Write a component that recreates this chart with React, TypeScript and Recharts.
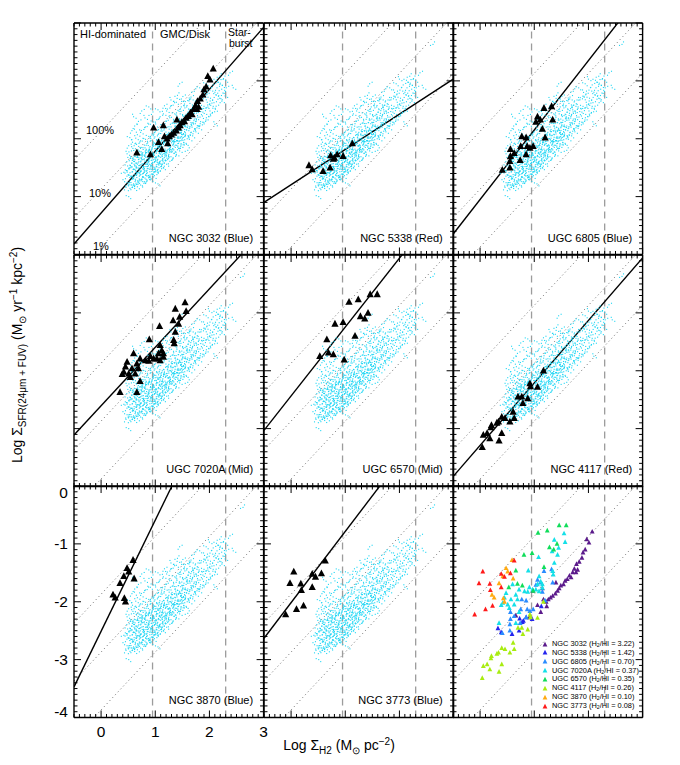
import React from "react";
import { ScatterChart, Scatter, XAxis, YAxis, ReferenceLine } from "recharts";

type Pt = [number, number];

const FONT = "'Liberation Sans', Arial, Helvetica, sans-serif";

// panel grid (pixels)
const COL_LEFT = [74.0, 263.6, 453.1];
const ROW_TOP = [23.3, 254.5, 485.7];
const PW = 189.6;
const PH = 231.5;
const M = 34;

const X_DOMAIN: Pt = [-0.5, 3];
const Y_DOMAIN: Pt = [-4, 0];

const X_TICKS = [
  -0.5, -0.4, -0.3, -0.2, -0.1, 0, 0.1, 0.2, 0.3, 0.4, 0.5, 0.6, 0.7, 0.8, 0.9, 1, 1.1, 1.2, 1.3, 1.4,
  1.5, 1.6, 1.7, 1.8, 1.9, 2, 2.1, 2.2, 2.3, 2.4, 2.5, 2.6, 2.7, 2.8, 2.9, 3,
];
const Y_TICKS = [
  -4, -3.9, -3.8, -3.7, -3.6, -3.5, -3.4, -3.3, -3.2, -3.1, -3, -2.9, -2.8, -2.7, -2.6, -2.5, -2.4,
  -2.3, -2.2, -2.1, -2, -1.9, -1.8, -1.7, -1.6, -1.5, -1.4, -1.3, -1.2, -1.1, -1, -0.9, -0.8, -0.7,
  -0.6, -0.5, -0.4, -0.3, -0.2, -0.1, 0,
];

// vertical regime limits and constant-efficiency lines (log SFR = log gas + offset)
const REGIME_LIMITS = [0.95, 2.3];
const EFFICIENCY_OFFSETS = [-1.87, -2.87, -3.87];

// THINGS spiral pixels (cyan cloud)
const THINGS_CLOUD: Pt[] = [
  [0.46,-2.84],[0.48,-2.76],[0.45,-2.69],[0.50,-2.62],[0.47,-2.55],[0.49,-2.47],[0.52,-2.38],[0.48,-2.26],[0.51,-2.12],[0.53,-1.98],
  [0.55,-2.88],[0.57,-2.80],[0.54,-2.72],[0.56,-2.65],[0.58,-2.57],[0.55,-2.50],[0.57,-2.42],[0.59,-2.33],[0.56,-2.21],[0.58,-2.06],[0.57,-1.86],
  [0.62,-2.86],[0.60,-2.78],[0.63,-2.70],[0.61,-2.62],[0.64,-2.55],[0.62,-2.47],[0.60,-2.39],[0.63,-2.31],[0.65,-2.22],[0.61,-2.12],[0.64,-1.99],[0.62,-1.78],
  [0.67,-2.83],[0.69,-2.75],[0.66,-2.67],[0.68,-2.59],[0.70,-2.52],[0.67,-2.44],[0.69,-2.36],[0.71,-2.28],[0.68,-2.19],[0.70,-2.08],[0.67,-1.93],[0.69,-1.70],
  [0.73,-2.80],[0.75,-2.71],[0.72,-2.63],[0.74,-2.56],[0.76,-2.48],[0.73,-2.40],[0.75,-2.32],[0.77,-2.24],[0.74,-2.15],[0.76,-2.04],[0.73,-1.89],
  [0.79,-2.77],[0.81,-2.68],[0.78,-2.60],[0.80,-2.52],[0.82,-2.44],[0.79,-2.36],[0.81,-2.28],[0.83,-2.20],[0.80,-2.11],[0.82,-2.01],[0.79,-1.84],[0.81,-1.64],
  [0.85,-2.73],[0.87,-2.64],[0.84,-2.56],[0.86,-2.48],[0.88,-2.40],[0.85,-2.32],[0.87,-2.24],[0.89,-2.16],[0.86,-2.07],[0.88,-1.96],[0.85,-1.79],
  [0.91,-2.71],[0.93,-2.61],[0.90,-2.53],[0.92,-2.45],[0.94,-2.37],[0.91,-2.29],[0.93,-2.21],[0.95,-2.12],[0.92,-2.03],[0.94,-1.92],[0.91,-1.75],[0.93,-1.58],
  [0.97,-2.66],[0.99,-2.57],[0.96,-2.49],[0.98,-2.41],[1.00,-2.33],[0.97,-2.25],[0.99,-2.17],[1.01,-2.08],[0.98,-1.99],[1.00,-1.88],[0.97,-1.71],
  [1.03,-2.62],[1.05,-2.53],[1.02,-2.45],[1.04,-2.37],[1.06,-2.29],[1.03,-2.21],[1.05,-2.13],[1.07,-2.04],[1.04,-1.95],[1.06,-1.84],[1.03,-1.67],[1.05,-1.50],
  [1.09,-2.56],[1.11,-2.48],[1.08,-2.40],[1.10,-2.32],[1.12,-2.24],[1.09,-2.16],[1.11,-2.08],[1.13,-2.00],[1.10,-1.91],[1.12,-1.80],[1.09,-1.62],
  [1.15,-2.50],[1.17,-2.42],[1.14,-2.34],[1.16,-2.26],[1.18,-2.18],[1.15,-2.10],[1.17,-2.02],[1.19,-1.94],[1.16,-1.85],[1.18,-1.74],[1.15,-1.57],[1.17,-1.43],
  [1.21,-2.44],[1.23,-2.36],[1.20,-2.28],[1.22,-2.20],[1.24,-2.12],[1.21,-2.05],[1.23,-1.97],[1.25,-1.89],[1.22,-1.80],[1.24,-1.68],[1.21,-1.52],
  [1.27,-2.39],[1.29,-2.31],[1.26,-2.23],[1.28,-2.15],[1.30,-2.07],[1.27,-2.00],[1.29,-1.92],[1.31,-1.84],[1.28,-1.75],[1.30,-1.63],[1.27,-1.47],[1.29,-1.33],
  [1.33,-2.33],[1.35,-2.25],[1.32,-2.17],[1.34,-2.09],[1.36,-2.01],[1.33,-1.94],[1.35,-1.86],[1.37,-1.78],[1.34,-1.69],[1.36,-1.57],[1.33,-1.42],
  [1.39,-2.27],[1.41,-2.19],[1.38,-2.11],[1.40,-2.03],[1.42,-1.96],[1.39,-1.88],[1.41,-1.80],[1.43,-1.72],[1.40,-1.63],[1.42,-1.51],[1.39,-1.37],[1.41,-1.25],
  [1.45,-2.21],[1.47,-2.13],[1.44,-2.05],[1.46,-1.97],[1.48,-1.90],[1.45,-1.82],[1.47,-1.74],[1.49,-1.66],[1.46,-1.57],[1.48,-1.45],[1.45,-1.32],
  [1.51,-2.15],[1.53,-2.07],[1.50,-1.99],[1.52,-1.91],[1.54,-1.84],[1.51,-1.76],[1.53,-1.68],[1.55,-1.60],[1.52,-1.51],[1.54,-1.40],[1.51,-1.27],
  [1.57,-2.08],[1.59,-2.00],[1.56,-1.92],[1.58,-1.85],[1.60,-1.78],[1.57,-1.70],[1.59,-1.62],[1.61,-1.54],[1.58,-1.45],[1.60,-1.34],
  [1.63,-2.01],[1.65,-1.94],[1.62,-1.86],[1.64,-1.79],[1.66,-1.72],[1.63,-1.64],[1.65,-1.56],[1.67,-1.48],[1.64,-1.39],[1.66,-1.28],
  [1.69,-1.95],[1.71,-1.87],[1.68,-1.80],[1.70,-1.73],[1.72,-1.66],[1.69,-1.58],[1.71,-1.50],[1.73,-1.42],[1.70,-1.33],[1.72,-1.18],
  [1.75,-1.88],[1.77,-1.81],[1.74,-1.74],[1.76,-1.67],[1.78,-1.60],[1.75,-1.52],[1.77,-1.44],[1.79,-1.33],
  [1.81,-1.82],[1.83,-1.74],[1.80,-1.67],[1.84,-1.53],[1.81,-1.45],[1.85,-1.29],[1.82,-1.12],
  [1.87,-1.76],[1.89,-1.65],[1.88,-1.54],[1.90,-1.44],[1.89,-1.31],[1.91,-1.20],
  [1.93,-1.70],[1.95,-1.58],[1.94,-1.46],[1.96,-1.37],[1.95,-1.24],[1.94,-1.05],
  [1.99,-1.62],[2.01,-1.52],[2.00,-1.41],[2.02,-1.30],[2.01,-1.16],[2.00,-0.97],
  [2.05,-1.56],[2.07,-1.44],[2.06,-1.33],[2.08,-1.22],[2.07,-1.07],
  [2.11,-1.49],[2.13,-1.36],[2.12,-1.24],[2.14,-1.12],[2.13,-0.99],
  [2.17,-1.42],[2.19,-1.30],[2.18,-1.17],[2.20,-1.04],[2.19,-0.92],
  [2.23,-1.35],[2.25,-1.21],[2.24,-1.08],[2.26,-0.96],
  [2.29,-1.26],[2.31,-1.12],[2.30,-0.99],
  [2.62,-0.37],[2.44,-1.12],[2.38,-0.86],[0.51,-3.00],[0.42,-2.58],[0.60,-1.62],[0.75,-1.52],
  [1.05,-2.78],[1.60,-2.20],[2.10,-1.75],[1.45,-1.05],[0.88,-1.45],
  // denser core
  [0.50,-2.80],[0.53,-2.67],[0.51,-2.51],[0.54,-2.34],[0.58,-2.84],[0.59,-2.69],[0.60,-2.53],[0.61,-2.44],
  [0.65,-2.79],[0.66,-2.62],[0.65,-2.49],[0.66,-2.32],[0.71,-2.77],[0.72,-2.58],[0.71,-2.46],[0.72,-2.33],
  [0.70,-2.21],[0.77,-2.74],[0.78,-2.66],[0.77,-2.52],[0.78,-2.43],[0.76,-2.27],[0.83,-2.70],[0.84,-2.60],
  [0.83,-2.48],[0.84,-2.36],[0.82,-2.24],[0.89,-2.66],[0.90,-2.57],[0.89,-2.44],[0.90,-2.33],[0.88,-2.20],
  [0.95,-2.61],[0.96,-2.53],[0.95,-2.42],[0.96,-2.29],[0.94,-2.17],[1.01,-2.57],[1.02,-2.48],[1.01,-2.38],
  [1.02,-2.25],[1.00,-2.12],[1.07,-2.50],[1.08,-2.42],[1.07,-2.31],[1.08,-2.19],[1.06,-2.07],[1.13,-2.44],
  [1.14,-2.37],[1.13,-2.27],[1.14,-2.14],[1.12,-2.03],[1.19,-2.38],[1.20,-2.31],[1.19,-2.21],[1.20,-2.09],
  [1.25,-2.27],[1.26,-2.17],[1.25,-2.04],[1.31,-2.22],[1.32,-2.11],[1.31,-1.99],[1.37,-2.15],[1.38,-2.05],
  [1.37,-1.93],[1.43,-2.08],[1.44,-1.99],[1.43,-1.87],[1.49,-2.02],[1.50,-1.93],[1.49,-1.81],
];

// early-type galaxy sub-regions
const NGC3032: Pt[] = [
  [2.07,-0.79],[1.97,-0.92],[2.01,-0.98],[1.94,-1.10],[1.90,-1.15],[1.88,-1.24],[1.83,-1.31],[1.78,-1.35],
  [1.74,-1.43],[1.71,-1.49],[1.80,-1.45],[1.65,-1.55],[1.61,-1.61],[1.57,-1.64],[1.54,-1.70],[1.49,-1.72],
  [1.46,-1.77],[1.43,-1.81],[1.39,-1.86],[1.34,-1.90],[1.30,-1.93],[1.26,-1.96],[1.22,-2.00],[1.15,-1.77],
  [0.97,-1.81],[1.06,-2.06],[1.12,-2.18],[1.23,-2.08],[0.91,-2.27],[0.66,-2.24],[1.17,-1.96],[1.40,-1.67],
  [1.68,-1.58],[1.77,-1.49],
];
const NGC5338: Pt[] = [
  [0.33,-2.46],[0.39,-2.53],[0.59,-2.56],[0.72,-2.50],[0.73,-2.29],[0.80,-2.33],[0.85,-2.27],[0.96,-2.30],
  [1.13,-2.08],[0.78,-2.35],
];
const UGC6805: Pt[] = [
  [0.41,-2.54],[0.55,-2.50],[0.55,-2.39],[0.56,-2.30],[0.56,-2.18],[0.63,-2.25],[0.74,-2.37],[0.75,-2.13],
  [0.77,-1.96],[0.85,-1.98],[0.85,-2.27],[0.87,-2.13],[0.92,-2.16],[0.98,-2.13],[1.03,-1.71],[1.06,-1.62],
  [1.11,-1.67],[1.15,-1.83],[1.18,-1.47],[1.20,-1.98],[1.32,-1.44],[1.34,-1.67],
];
const UGC7020A: Pt[] = [
  [1.55,-0.82],[1.37,-0.93],[1.57,-0.97],[1.45,-1.07],[1.33,-1.13],[1.43,-1.19],[1.08,-1.23],[1.37,-1.33],
  [1.34,-1.47],[1.35,-1.53],[0.89,-1.46],[1.09,-1.56],[1.12,-1.65],[1.06,-1.70],[0.60,-1.70],[0.72,-1.79],
  [0.82,-1.82],[0.91,-1.75],[0.97,-1.79],[1.03,-1.79],[1.09,-1.82],[1.15,-1.76],[0.66,-1.88],[0.48,-1.85],
  [0.45,-1.93],[0.57,-1.96],[0.69,-1.96],[0.42,-2.02],[0.39,-2.06],[0.51,-2.05],[0.63,-2.05],[0.54,-2.11],
  [0.72,-2.18],[0.35,-2.37],[0.66,-2.37],[1.15,-1.70],[0.88,-1.83],
];
const UGC6570: Pt[] = [
  [1.46,-0.68],[1.59,-0.68],[1.07,-0.81],[1.24,-0.77],[1.28,-1.06],[1.36,-1.10],[1.42,-1.00],[0.81,-1.19],
  [0.96,-1.16],[0.66,-1.46],[1.18,-1.40],[0.53,-1.75],[0.69,-1.69],[0.78,-1.72],[0.98,-1.81],
];
const NGC4117: Pt[] = [
  [1.17,-2.00],[0.92,-2.22],[0.93,-2.27],[1.06,-2.28],[0.70,-2.45],[0.77,-2.45],[0.88,-2.48],[0.79,-2.56],
  [0.61,-2.71],[0.63,-2.82],[0.40,-2.80],[0.46,-2.82],[0.55,-2.88],[0.34,-2.88],[0.21,-2.94],[0.20,-2.98],
  [0.06,-3.11],[0.13,-3.08],[0.18,-3.17],[0.40,-3.08],[0.35,-3.21],[0.04,-3.32],[0.31,-2.90],
];
const NGC3870: Pt[] = [
  [0.59,-1.28],[0.48,-1.42],[0.51,-1.48],[0.42,-1.56],[0.35,-1.68],[0.61,-1.60],[0.22,-1.88],[0.26,-1.93],
  [0.43,-1.94],[0.45,-2.00],
];
const NGC3773: Pt[] = [
  [0.63,-1.29],[0.05,-1.48],[-0.02,-1.68],[0.18,-1.69],[0.39,-1.52],[0.45,-1.57],[0.56,-1.51],[0.19,-1.80],
  [0.39,-1.75],[0.23,-2.07],[0.10,-2.13],[-0.10,-2.22],
];

// fitted relations [slope, intercept]
const FIT_NGC3032: Pt = [1.07, -3.285];
const FIT_NGC5338: Pt = [0.61, -2.795];
const FIT_UGC6805: Pt = [1.2, -3.05];
const FIT_UGC7020A: Pt = [1.01, -2.605];
const FIT_UGC6570: Pt = [1.19, -2.435];
const FIT_NGC4117: Pt = [1.08, -3.29];
const FIT_NGC3870: Pt = [1.92, -2.51];
const FIT_NGC3773: Pt = [1.23, -2.015];

const PANELS = [
  { label: "NGC 3032 (Blue)", pts: NGC3032, fit: FIT_NGC3032 },
  { label: "NGC 5338 (Red)", pts: NGC5338, fit: FIT_NGC5338 },
  { label: "UGC 6805 (Blue)", pts: UGC6805, fit: FIT_UGC6805 },
  { label: "UGC 7020A (Mid)", pts: UGC7020A, fit: FIT_UGC7020A },
  { label: "UGC 6570 (Mid)", pts: UGC6570, fit: FIT_UGC6570 },
  { label: "NGC 4117 (Red)", pts: NGC4117, fit: FIT_NGC4117 },
  { label: "NGC 3870 (Blue)", pts: NGC3870, fit: FIT_NGC3870 },
  { label: "NGC 3773 (Blue)", pts: NGC3773, fit: FIT_NGC3773 },
];

const LEGEND_NAMES = ["NGC 3032", "NGC 5338", "UGC 6805", "UGC 7020A", "UGC 6570", "NGC 4117", "NGC 3870", "NGC 3773"];
const H2_HI = ["3.22", "1.42", "0.70", "0.37", "0.35", "0.26", "0.10", "0.08"];
const LEGEND_COLORS = ["#5b1a8b", "#2424ee", "#2a8cff", "#14e0e8", "#10dd5a", "#a8ec10", "#ffaa10", "#ff1a1a"];
const LEGEND_POINTS = [NGC3032, NGC5338, UGC6805, UGC7020A, UGC6570, NGC4117, NGC3870, NGC3773];

const SPECKLES = [
  [[0, 0], [2.5, -1.5], [-1.5, 2.5]],
  [[0, 0], [-2.5, -1], [2, 2]],
  [[0, 0], [1.5, -2.5], [-2.5, 1]],
  [[0, 0], [-1, -2.5], [2.5, 1.5]],
];

const toRows = (pts: Pt[]) => pts.map(([x, y], i) => ({ x, y, k: i % 4 }));
const cloudRows = toRows(THINGS_CLOUD);

const speckle = (p: any) => {
  const pat = SPECKLES[p.payload?.k ?? 0];
  return (
    <g>
      {pat.map(([dx, dy], i) => (
        <rect key={i} x={p.cx + dx - 0.55} y={p.cy + dy - 0.55} width={1.1} height={1.1} fill="#1fd6f4" />
      ))}
    </g>
  );
};

const triangle = (w: number, up: number, down: number, color: string) => (p: any) => (
  <polygon
    points={`${p.cx},${p.cy - up} ${p.cx - w},${p.cy + down} ${p.cx + w},${p.cy + down}`}
    fill={color}
  />
);

const makeTick = (side: "b" | "t" | "l" | "r", labels: boolean) => (props: any) => {
  const { x, y, payload } = props;
  const v = Number(payload.value);
  const major = Math.abs(v - Math.round(v)) < 1e-6;
  const len = major ? 7 : 3.5;
  const d = side === "b" ? [0, -len] : side === "t" ? [0, len] : side === "l" ? [len, 0] : [-len, 0];
  let label = null;
  if (labels && major) {
    if (side === "b" && v >= 0) {
      label = (
        <text x={x} y={y + 20} textAnchor="middle" fontSize={15.5} fontFamily={FONT} fill="#000">
          {String(Math.round(v))}
        </text>
      );
    }
    if (side === "l") {
      const dy = v === 0 ? 12.5 : v === -4 ? 0 : 5.5;
      label = (
        <text x={x - 6} y={y + dy} textAnchor="end" fontSize={15.5} fontFamily={FONT} fill="#000">
          {String(Math.round(v))}
        </text>
      );
    }
  }
  return (
    <g>
      <line x1={x} y1={y} x2={x + d[0]} y2={y + d[1]} stroke="#000" strokeWidth={1} />
      {label}
    </g>
  );
};

const frame = { stroke: "#000", strokeWidth: 1.4 };

function Panel({ col, row, labels, children }: { col: number; row: number; labels?: boolean; children: React.ReactNode }) {
  return (
    <div style={{ position: "absolute", left: COL_LEFT[col] - M - 1, top: ROW_TOP[row] - M - 1 }}>
      <ScatterChart width={PW + 2 * M + 2} height={PH + 2 * M + 2} margin={{ top: M, right: M, bottom: M, left: M }}>
        <XAxis xAxisId="b" orientation="bottom" type="number" dataKey="x" domain={X_DOMAIN} allowDataOverflow
          ticks={X_TICKS} interval={0} height={1} tickSize={0} tickMargin={0} tickLine={false} axisLine={frame}
          tick={makeTick("b", !!labels)} />
        <XAxis xAxisId="t" orientation="top" type="number" dataKey="x" domain={X_DOMAIN} allowDataOverflow
          ticks={X_TICKS} interval={0} height={1} tickSize={0} tickMargin={0} tickLine={false} axisLine={frame}
          tick={makeTick("t", false)} />
        <YAxis yAxisId="l" orientation="left" type="number" dataKey="y" domain={Y_DOMAIN} allowDataOverflow
          ticks={Y_TICKS} interval={0} width={1} tickSize={0} tickMargin={0} tickLine={false} axisLine={frame}
          tick={makeTick("l", !!labels)} />
        <YAxis yAxisId="r" orientation="right" type="number" dataKey="y" domain={Y_DOMAIN} allowDataOverflow
          ticks={Y_TICKS} interval={0} width={1} tickSize={0} tickMargin={0} tickLine={false} axisLine={frame}
          tick={makeTick("r", false)} />
        {EFFICIENCY_OFFSETS.map((o) => (
          <ReferenceLine key={"e" + o} xAxisId="b" yAxisId="l" ifOverflow="hidden"
            segment={[{ x: X_DOMAIN[0], y: X_DOMAIN[0] + o }, { x: X_DOMAIN[1], y: X_DOMAIN[1] + o }]}
            stroke="#6a6a6a" strokeWidth={1} strokeDasharray="1 3" />
        ))}
        {REGIME_LIMITS.map((v) => (
          <ReferenceLine key={"r" + v} xAxisId="b" yAxisId="l" x={v} stroke="#9c9c9c" strokeWidth={1.3} strokeDasharray="7 5" />
        ))}
        {children}
      </ScatterChart>
    </div>
  );
}

const txt = (left: number, top: number, s: React.ReactNode, size = 11, right = false) => (
  <div
    key={String(s) + left + top}
    style={{
      position: "absolute",
      left,
      top,
      transform: right ? "translate(-100%, -50%)" : "translate(0, -50%)",
      fontSize: size,
      whiteSpace: "nowrap",
      lineHeight: 1,
      color: "#000",
    }}
  >
    {s}
  </div>
);

export default function App() {
  return (
    <div style={{ position: "absolute", left: 0, top: 0, width: 680, height: 765, background: "#fff", fontFamily: FONT }}>
      {PANELS.map((p, i) => {
        const col = i % 3;
        const row = Math.floor(i / 3);
        return (
          <Panel key={p.label} col={col} row={row} labels={i === 6}>
            <Scatter xAxisId="b" yAxisId="l" data={cloudRows} shape={speckle} isAnimationActive={false} />
            <ReferenceLine xAxisId="b" yAxisId="l" ifOverflow="hidden"
              segment={[
                { x: X_DOMAIN[0], y: p.fit[0] * X_DOMAIN[0] + p.fit[1] },
                { x: X_DOMAIN[1], y: p.fit[0] * X_DOMAIN[1] + p.fit[1] },
              ]}
              stroke="#000" strokeWidth={1.4} />
            <Scatter xAxisId="b" yAxisId="l" data={toRows(p.pts)} shape={triangle(3.6, 4, 2.8, "#000")} isAnimationActive={false} />
          </Panel>
        );
      })}
      <Panel col={2} row={2}>
        {LEGEND_POINTS.map((pts, i) => (
          <Scatter key={LEGEND_NAMES[i]} xAxisId="b" yAxisId="l" data={toRows(pts)}
            shape={triangle(2.4, 2.8, 1.9, LEGEND_COLORS[i])} isAnimationActive={false} />
        ))}
      </Panel>

      {PANELS.map((p, i) =>
        txt(COL_LEFT[i % 3] + PW - 10.5, ROW_TOP[Math.floor(i / 3)] + PH - 17, p.label, 11, true)
      )}

      {txt(80, 34, "HI-dominated")}
      {txt(160, 34, "GMC/Disk")}
      {txt(228, 32, "Star-", 10.5)}
      {txt(229, 43, "burst", 10.5)}
      {txt(86, 130, "100%")}
      {txt(89, 193, "10%")}
      {txt(93, 246, "1%")}

      {LEGEND_NAMES.map((n, i) => (
        <div key={n} style={{ position: "absolute", left: 541, top: 644 + i * 8.85, transform: "translate(0,-50%)", fontSize: 7.4, lineHeight: 1, whiteSpace: "nowrap", display: "flex", alignItems: "center" }}>
          <svg width={8} height={7} style={{ marginRight: 3 }}>
            <polygon points="4,0.8 1.6,5.6 6.4,5.6" fill={LEGEND_COLORS[i]} />
          </svg>
          <span>
            {n} (H<sub style={{ fontSize: 5.2, verticalAlign: "-1px" }}>2</sub>/HI = {H2_HI[i]})
          </span>
        </div>
      ))}

      <div style={{ position: "absolute", left: 339, top: 746, transform: "translate(-50%,-50%)", fontSize: 14, whiteSpace: "nowrap" }}>
        Log Σ<sub style={{ fontSize: 10 }}>H2</sub> (M<sub style={{ fontSize: 10 }}>⊙</sub> pc<sup style={{ fontSize: 10 }}>−2</sup>)
      </div>
      <div style={{ position: "absolute", left: 18, top: 355, transform: "translate(-50%,-50%) rotate(-90deg)", fontSize: 14, whiteSpace: "nowrap" }}>
        Log Σ<sub style={{ fontSize: 10 }}>SFR(24μm + FUV)</sub> (M<sub style={{ fontSize: 10 }}>⊙</sub> yr<sup style={{ fontSize: 10 }}>−1</sup> kpc<sup style={{ fontSize: 10 }}>−2</sup>)
      </div>
    </div>
  );
}
